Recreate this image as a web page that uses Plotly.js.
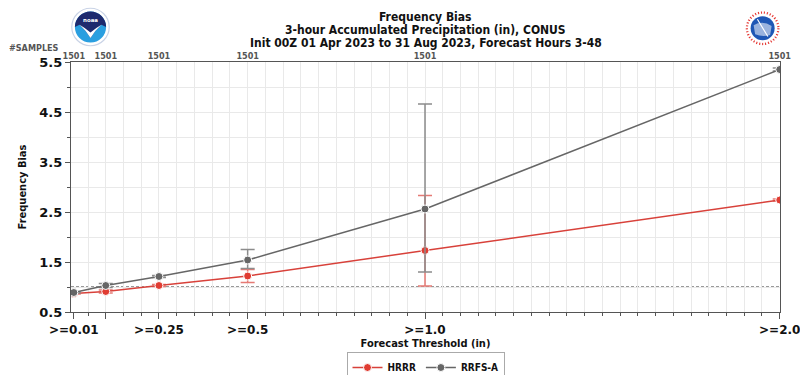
<!DOCTYPE html>
<html>
<head>
<meta charset="utf-8">
<script src="https://cdn.plot.ly/plotly-3.0.1.min.js"></script>
<style>html,body{margin:0;padding:0;background:#fff;}#chart{width:800px;height:375px;}</style>
</head>
<body>
<div id="chart"></div>
<script>
// thresholds (in)
const thresholds = [0.01, 0.1, 0.25, 0.5, 1.0, 2.0];
const thresholdLabels = ['>=0.01', '', '>=0.25', '>=0.5', '>=1.0', '>=2.0'];
const samples = ['1501', '1501', '1501', '1501', '1501', '1501'];

const hrrrBias = [0.87, 0.91, 1.03, 1.22, 1.73, 2.74];
const hrrrErrPlus = [0.01, 0.03, 0.02, 0.13, 1.10, 0.02];
const hrrrErrMinus = [0.01, 0.03, 0.02, 0.13, 0.71, 0.02];

const rrfsBias = [0.89, 1.03, 1.21, 1.54, 2.56, 5.35];
const rrfsErrPlus = [0.01, 0.04, 0.02, 0.21, 2.10, 0.03];
const rrfsErrMinus = [0.01, 0.04, 0.02, 0.17, 1.26, 0.03];

const yTicks = [0.5, 1.5, 2.5, 3.5, 4.5, 5.5];
const refBias = 1.0;

const titleLines = ['Frequency Bias',
  '3-hour Accumulated Precipitation (in), CONUS',
  'Init 00Z 01 Apr 2023 to 31 Aug 2023, Forecast Hours 3-48'];

const redC = '#d8413a';
const grayC = '#666666';
const condFont = 'DejaVu Sans Condensed, DejaVu Sans, sans-serif';
const xRange = [0.002, 2.0008];

const traces = [
  {
    x: thresholds, y: hrrrBias, name: 'HRRR', type: 'scatter', mode: 'lines+markers',
    line: {color: redC, width: 1.5},
    marker: {color: '#e03c32', size: 8, line: {color: '#ffffff', width: 1}},
    error_y: {type: 'data', symmetric: false, array: hrrrErrPlus, arrayminus: hrrrErrMinus,
      color: '#e57a74', thickness: 1.5, width: 7}
  },
  {
    x: thresholds, y: rrfsBias, name: 'RRFS-A', type: 'scatter', mode: 'lines+markers',
    line: {color: grayC, width: 1.5},
    marker: {color: '#666666', size: 8, line: {color: '#ffffff', width: 1}},
    error_y: {type: 'data', symmetric: false, array: rrfsErrPlus, arrayminus: rrfsErrMinus,
      color: '#8c8c8c', thickness: 1.5, width: 7}
  },
  {
    x: thresholds, y: hrrrBias, xaxis: 'x2', yaxis: 'y', type: 'scatter', mode: 'markers',
    marker: {opacity: 0}, showlegend: false, hoverinfo: 'skip'
  }
];

const noaaSvg = '<svg xmlns="http://www.w3.org/2000/svg" width="100" height="100" viewBox="0 0 100 100">' +
  '<circle cx="50" cy="50" r="48" fill="#ffffff" stroke="#c9d3e6" stroke-width="3"/>' +
  '<circle cx="50" cy="50" r="40" fill="#2a9fe0"/>' +
  '<path d="M10 50 A40 40 0 0 1 90 50 L78 44 Q62 58 50 78 Q38 58 22 44 Z" fill="#1e2a6e"/>' +
  '<path d="M22 44 Q38 58 50 78 Q62 58 78 44 Q64 52 50 64 Q36 52 22 44 Z" fill="#ffffff"/>' +
  '<text x="50" y="38" font-family="DejaVu Sans" font-weight="bold" font-size="14" fill="#ffffff" text-anchor="middle">noaa</text>' +
  '</svg>';
const nwsSvg = '<svg xmlns="http://www.w3.org/2000/svg" width="100" height="100" viewBox="0 0 100 100">' +
  '<circle cx="50" cy="50" r="48" fill="#ffffff"/>' +
  '<circle cx="50" cy="50" r="42" fill="none" stroke="#e53935" stroke-width="6" stroke-dasharray="3 5"/>' +
  '<circle cx="50" cy="50" r="32" fill="#1f57b5"/>' +
  '<path d="M26 42 Q50 28 74 44 L70 68 Q50 74 30 66 Z" fill="#ffffff" opacity="0.55"/>' +
  '<path d="M36 26 L64 72" stroke="#ffffff" stroke-width="3"/>' +
  '</svg>';

// pixel-to-paper helpers for the fixed plot box (x 71..780, y 62..312)
const py = p => (312 - p) / 250;
const px = p => (p - 71) / 709;

const layout = {
  width: 800, height: 375,
  margin: {l: 71, r: 20, t: 62, b: 63},
  paper_bgcolor: '#ffffff', plot_bgcolor: '#ffffff',
  showlegend: true,
  xaxis: {
    range: xRange, automargin: false, ticklabeloverflow: 'allow',
    tickmode: 'array', tickvals: thresholds, ticktext: thresholdLabels,
    ticks: 'outside', ticklen: 6, tickwidth: 1, tickcolor: '#555555',
    tickfont: {family: 'DejaVu Sans, sans-serif', size: 12, color: '#111111', weight: 'bold'},
    showline: true, linecolor: '#555555', linewidth: 1.2, mirror: true,
    showgrid: false, zeroline: false,
    minor: {tickmode: 'linear', tick0: 0, dtick: 0.05, ticks: 'outside', ticklen: 3, tickcolor: '#555555',
      showgrid: true, gridcolor: '#e9e9e9', gridwidth: 1},
    title: {text: 'Forecast Threshold (in)', standoff: 1,
      font: {family: condFont, size: 11, color: '#111111', weight: 'bold'}}
  },
  xaxis2: {
    overlaying: 'x', side: 'top', matches: 'x', range: xRange, automargin: false, ticklabeloverflow: 'allow',
    tickmode: 'array', tickvals: thresholds, ticktext: samples,
    ticks: '', showline: false, showgrid: false, zeroline: false,
    tickfont: {family: condFont, size: 9, color: '#555555', weight: 'bold'}
  },
  yaxis: {
    range: [0.5, 5.5], automargin: false,
    tickmode: 'array', tickvals: yTicks,
    ticks: 'outside', ticklen: 5, tickwidth: 1, tickcolor: '#555555',
    tickfont: {family: 'DejaVu Sans, sans-serif', size: 13, color: '#111111', weight: 'bold'},
    showline: true, linecolor: '#555555', linewidth: 1.2, mirror: true,
    showgrid: true, gridcolor: '#e9e9e9', zeroline: false,
    minor: {tickmode: 'linear', tick0: 0.5, dtick: 0.5, ticks: 'outside', ticklen: 3, tickcolor: '#555555',
      showgrid: true, gridcolor: '#e9e9e9'},
    title: {text: 'Frequency Bias', standoff: 10,
      font: {family: condFont, size: 11, color: '#111111', weight: 'bold'}}
  },
  shapes: [
    {type: 'line', xref: 'paper', x0: 0, x1: 1, yref: 'y', y0: refBias, y1: refBias,
      line: {color: '#333333', width: 1, dash: '3px,2px'}, layer: 'below'}
  ],
  annotations: [
    {text: '#SAMPLES', xref: 'paper', yref: 'paper', x: px(61), y: py(48), xanchor: 'right', yanchor: 'middle',
      showarrow: false, font: {family: condFont, size: 9, color: '#555555', weight: 'bold'}},
    {text: titleLines[0], xref: 'paper', yref: 'paper', x: 0.5, y: py(17), xanchor: 'center', yanchor: 'middle',
      showarrow: false, font: {family: condFont, size: 12, color: '#111111', weight: 'bold'}},
    {text: titleLines[1], xref: 'paper', yref: 'paper', x: 0.5, y: py(30), xanchor: 'center', yanchor: 'middle',
      showarrow: false, font: {family: condFont, size: 12, color: '#111111', weight: 'bold'}},
    {text: titleLines[2], xref: 'paper', yref: 'paper', x: 0.5, y: py(43), xanchor: 'center', yanchor: 'middle',
      showarrow: false, font: {family: condFont, size: 12, color: '#111111', weight: 'bold'}}
  ],
  images: [
    {source: 'data:image/svg+xml;charset=utf-8,' + encodeURIComponent(noaaSvg), xref: 'paper', yref: 'paper',
      x: 0.0, y: 1.22, sizex: 0.055, sizey: 0.16, xanchor: 'left', yanchor: 'top', sizing: 'contain', layer: 'above'},
    {source: 'data:image/svg+xml;charset=utf-8,' + encodeURIComponent(nwsSvg), xref: 'paper', yref: 'paper',
      x: 0.948, y: 1.21, sizex: 0.055, sizey: 0.15, xanchor: 'left', yanchor: 'top', sizing: 'contain', layer: 'above'}
  ],
  legend: {
    orientation: 'h', x: 0.5, xanchor: 'center', xref: 'paper', yref: 'container', y: (375 - 352) / 375, yanchor: 'top',
    bordercolor: '#aaaaaa', borderwidth: 1, bgcolor: '#ffffff',
    font: {family: condFont, size: 10, color: '#111111', weight: 'bold'},
    itemwidth: 30
  }
};

Plotly.newPlot('chart', traces, layout, {displayModeBar: false, staticPlot: true});
</script>
</body>
</html>
